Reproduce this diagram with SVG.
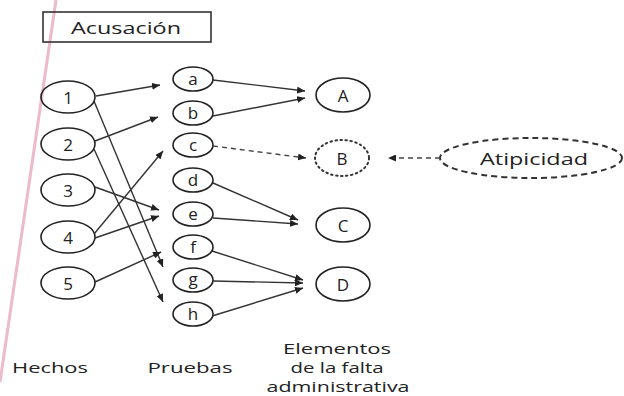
<svg xmlns="http://www.w3.org/2000/svg" width="624" height="396" viewBox="0 0 624 396">
<style>
.n{fill:none;stroke:#222;stroke-width:1.6}
.t{font-family:"Open Sans","Noto Sans",sans-serif;fill:#222;text-anchor:middle;dominant-baseline:central}
.c{stroke:#333;stroke-width:1.4;fill:none}
.d{stroke:#444;stroke-width:1.4;fill:none;stroke-dasharray:5 4}
</style>
<defs>
<marker id="ah" markerUnits="userSpaceOnUse" markerWidth="9" markerHeight="7" refX="8" refY="3.5" orient="auto">
<path d="M0,0 L8,3.5 L0,7 z" fill="#222"/>
</marker>
</defs>
<rect width="624" height="396" fill="#fff"/>
<line x1="56" y1="0" x2="0" y2="382" stroke="#e7a3b8" stroke-width="3" opacity="0.75"/>
<g id="acusacion">
<rect x="43" y="12" width="168" height="30" fill="none" stroke="#333" stroke-width="1.6"/>
<text class="t" x="126" y="27" font-size="17" textLength="110" lengthAdjust="spacingAndGlyphs">Acusación</text>
</g>
<g id="h1"><ellipse class="n" cx="68" cy="97" rx="27" ry="16"/><text class="t" x="68" y="97" font-size="17">1</text></g>
<g id="h2"><ellipse class="n" cx="68" cy="144" rx="27" ry="16"/><text class="t" x="68" y="144" font-size="17">2</text></g>
<g id="h3"><ellipse class="n" cx="68" cy="190" rx="27" ry="16"/><text class="t" x="68" y="190" font-size="17">3</text></g>
<g id="h4"><ellipse class="n" cx="68" cy="237" rx="27" ry="16"/><text class="t" x="68" y="237" font-size="17">4</text></g>
<g id="h5"><ellipse class="n" cx="68" cy="283" rx="27" ry="16"/><text class="t" x="68" y="283" font-size="17">5</text></g>
<g id="pa"><ellipse class="n" cx="193" cy="79" rx="20" ry="12"/><text class="t" x="193" y="78" font-size="17">a</text></g>
<g id="pb"><ellipse class="n" cx="193" cy="113" rx="20" ry="12"/><text class="t" x="193" y="112" font-size="17">b</text></g>
<g id="pc"><ellipse class="n" cx="193" cy="145" rx="20" ry="12"/><text class="t" x="193" y="144" font-size="17">c</text></g>
<g id="pd"><ellipse class="n" cx="193" cy="180" rx="20" ry="12"/><text class="t" x="193" y="179" font-size="17">d</text></g>
<g id="pe"><ellipse class="n" cx="193" cy="214" rx="20" ry="12"/><text class="t" x="193" y="213" font-size="17">e</text></g>
<g id="pf"><ellipse class="n" cx="193" cy="247" rx="20" ry="12"/><text class="t" x="193" y="246" font-size="17">f</text></g>
<g id="pg"><ellipse class="n" cx="193" cy="280" rx="20" ry="12"/><text class="t" x="193" y="278" font-size="17">g</text></g>
<g id="ph"><ellipse class="n" cx="193" cy="314" rx="20" ry="12"/><text class="t" x="193" y="313" font-size="17">h</text></g>
<g id="eA"><ellipse class="n" cx="343" cy="95" rx="27" ry="17"/><text class="t" x="343" y="95" font-size="17">A</text></g>
<g id="eB"><ellipse cx="342" cy="158" rx="27" ry="18" fill="none" stroke="#333" stroke-width="2" stroke-dasharray="1.5 3.5" stroke-linecap="round"/><text class="t" x="342" y="158" font-size="17">B</text></g>
<g id="eC"><ellipse class="n" cx="343" cy="225" rx="27" ry="17"/><text class="t" x="343" y="225" font-size="17">C</text></g>
<g id="eD"><ellipse class="n" cx="343" cy="284" rx="27" ry="17"/><text class="t" x="343" y="284" font-size="17">D</text></g>
<g id="atipicidad"><ellipse cx="531" cy="158" rx="91" ry="20" fill="none" stroke="#333" stroke-width="2" stroke-dasharray="6 4"/><text class="t" x="534" y="158" font-size="17" textLength="108" lengthAdjust="spacingAndGlyphs">Atipicidad</text></g>
<g id="connectors">
<line class="c" x1="96" y1="96" x2="160" y2="85" marker-end="url(#ah)"/>
<line class="c" x1="95" y1="141" x2="158" y2="117" marker-end="url(#ah)"/>
<line class="c" x1="94" y1="101" x2="163" y2="267" marker-end="url(#ah)"/>
<line class="c" x1="94" y1="149" x2="163" y2="302" marker-end="url(#ah)"/>
<line class="c" x1="95" y1="187" x2="159" y2="210" marker-end="url(#ah)"/>
<line class="c" x1="94" y1="234" x2="163" y2="151" marker-end="url(#ah)"/>
<line class="c" x1="95" y1="238" x2="159" y2="216" marker-end="url(#ah)"/>
<line class="c" x1="95" y1="282" x2="161" y2="252" marker-end="url(#ah)"/>
<line class="c" x1="213" y1="80" x2="305" y2="91" marker-end="url(#ah)"/>
<line class="c" x1="213" y1="116" x2="305" y2="98" marker-end="url(#ah)"/>
<line class="d" x1="213" y1="146" x2="306" y2="158" marker-end="url(#ah)"/>
<line class="c" x1="213" y1="183" x2="298" y2="220" marker-end="url(#ah)"/>
<line class="c" x1="213" y1="218" x2="298" y2="224" marker-end="url(#ah)"/>
<line class="c" x1="212" y1="251" x2="303" y2="280" marker-end="url(#ah)"/>
<line class="c" x1="213" y1="281" x2="303" y2="283" marker-end="url(#ah)"/>
<line class="c" x1="212" y1="316" x2="303" y2="288" marker-end="url(#ah)"/>
<line class="d" x1="440" y1="158" x2="388" y2="158" marker-end="url(#ah)"/>
</g>
<g id="labels">
<text class="t" x="50" y="367" font-size="14" textLength="76" lengthAdjust="spacingAndGlyphs">Hechos</text>
<text class="t" x="190" y="367" font-size="14" textLength="85" lengthAdjust="spacingAndGlyphs">Pruebas</text>
<text class="t" x="337" y="348" font-size="14" textLength="108" lengthAdjust="spacingAndGlyphs">Elementos</text>
<text class="t" x="337" y="367" font-size="14" textLength="93" lengthAdjust="spacingAndGlyphs">de la falta</text>
<text class="t" x="338" y="386" font-size="14" textLength="143" lengthAdjust="spacingAndGlyphs">administrativa</text>
</g>
</svg>
